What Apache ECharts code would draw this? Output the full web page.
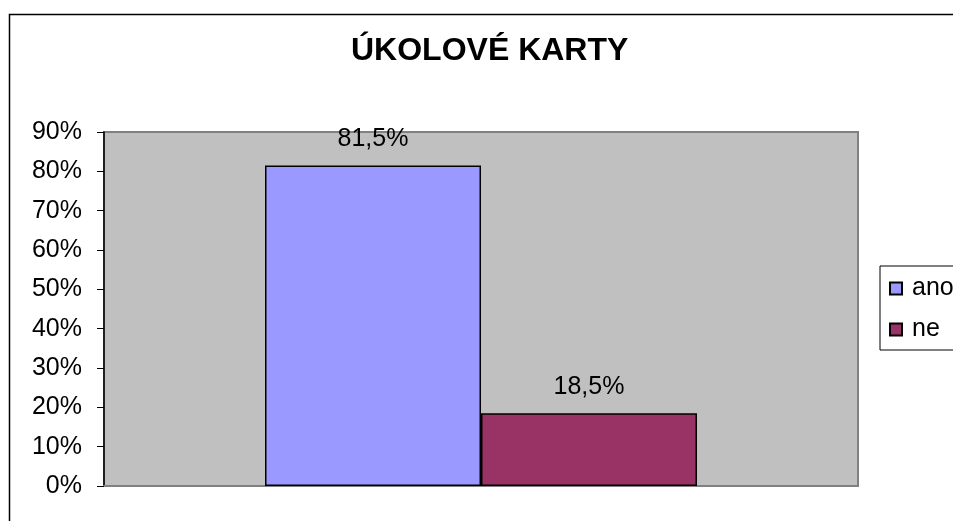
<!DOCTYPE html>
<html>
<head>
<meta charset="utf-8">
<script src="https://cdn.jsdelivr.net/npm/echarts@6/dist/echarts.min.js"></script>
<style>
html,body{margin:0;padding:0;background:#fff;}
#c{width:953px;height:521px;}
</style>
</head>
<body>
<div id="c"></div>
<script>
const titleText = 'ÚKOLOVÉ KARTY';
const categories = [''];
const seriesNames = ['ano', 'ne'];
const anoValues = [81.5];
const neValues = [18.5];
const yTicks = [0, 10, 20, 30, 40, 50, 60, 70, 80, 90];

const FONT = '"Liberation Sans", Arial, sans-serif';
const chart = echarts.init(document.getElementById('c'), null, {renderer: 'canvas'});
const labelFmt = p => String(p.value).replace('.', ',') + '%';

chart.setOption({
  animation: false,
  backgroundColor: '#ffffff',
  graphic: [{
    type: 'rect', left: 7, top: 12, z: -10,
    shape: {width: 1000, height: 600},
    style: {fill: 'none', stroke: '#000', lineWidth: 1.5}
  }],
  title: {
    text: titleText, left: 351, top: 35,
    padding: 0,
    textStyle: {fontFamily: FONT, fontSize: 32, fontWeight: 'bold', color: '#000'}
  },
  legend: {
    orient: 'vertical', left: 880, top: 266,
    data: seriesNames,
    icon: 'rect', itemWidth: 12, itemHeight: 12, itemGap: 16,
    padding: [10, 40, 8, 9],
    borderColor: '#000', borderWidth: 1, backgroundColor: '#fff',
    textStyle: {fontFamily: FONT, fontSize: 25, color: '#000', padding: [0, 0, 0, 5]}
  },
  grid: {
    left: 104, top: 132, right: 95, bottom: 35,
    show: true, backgroundColor: '#C0C0C0', borderColor: '#808080', borderWidth: 2
  },
  xAxis: {
    type: 'category', data: categories,
    axisLine: {show: true, lineStyle: {color: '#808080', width: 2}},
    axisTick: {show: false}, axisLabel: {show: false}
  },
  yAxis: {
    type: 'value', min: 0, max: 90, interval: 10,
    axisLine: {show: true, lineStyle: {color: '#000', width: 1.5}},
    axisTick: {show: true, length: 7, lineStyle: {color: '#000', width: 1}},
    splitLine: {show: false},
    axisLabel: {
      margin: 22, fontFamily: FONT, fontSize: 25, color: '#000',
      formatter: v => yTicks.includes(v) ? v + '%' : ''
    }
  },
  series: [
    {
      name: seriesNames[0], type: 'bar', data: anoValues,
      barWidth: 216, barGap: '0%',
      itemStyle: {color: '#9999FF', borderColor: '#000', borderWidth: 1.5},
      label: {show: true, position: 'top', distance: 14, formatter: labelFmt,
        fontFamily: FONT, fontSize: 25, color: '#000'}
    },
    {
      name: seriesNames[1], type: 'bar', data: neValues,
      barWidth: 216, barGap: '0%',
      itemStyle: {color: '#993366', borderColor: '#000', borderWidth: 1.5},
      label: {show: true, position: 'top', distance: 14, formatter: labelFmt,
        fontFamily: FONT, fontSize: 25, color: '#000'}
    }
  ]
});
</script>
</body>
</html>
